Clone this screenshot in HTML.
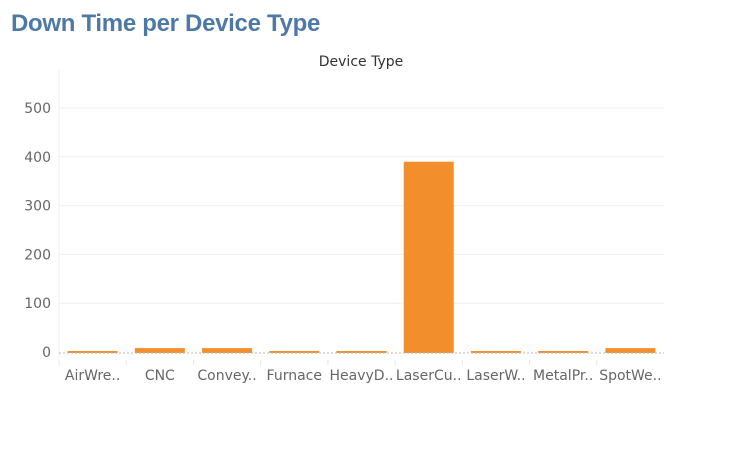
<!DOCTYPE html>
<html><head><meta charset="utf-8"><style>
body{margin:0;background:#fff;width:748px;height:452px;overflow:hidden;font-family:"Liberation Sans",sans-serif}
</style></head><body>
<div style="position:absolute;left:11px;top:10px;font:bold 24px 'Liberation Sans',sans-serif;color:#4e79a7;letter-spacing:-0.3px">Down Time per Device Type</div>
<svg id="c" width="748" height="452" style="position:absolute;left:0;top:0"></svg>
<script>
const categories=["AirWre..","CNC","Convey..","Furnace","HeavyD..","LaserCu..","LaserW..","MetalPr..","SpotWe.."];
const values=[2,10,10,2,2,392,2,2,10];
const ticks=[0,100,200,300,400,500];
const svg=document.getElementById('c');const NS='http://www.w3.org/2000/svg';
const x0=59,x1=664,y0=352,pxPer=0.488;
const slot=(x1-x0)/categories.length;
const y=v=>y0-v*pxPer;
function mk(t,a,txt){const e=document.createElementNS(NS,t);for(const k in a)e.setAttribute(k,a[k]);if(txt!=null)e.textContent=txt;svg.appendChild(e);return e;}
let e=mk('text',{x:361,y:66,'text-anchor':'middle','font-size':14,fill:'#333','font-family':'DejaVu Sans,Liberation Sans,sans-serif'},'Device Type');


mk('line',{x1:x0,y1:70,x2:x0,y2:362,stroke:'#f0f0f0'});
ticks.forEach(t=>{
 if(t>0){const g=mk('line',{x1:x0,x2:x1,y1:y(t),y2:y(t),stroke:'#efefef'});}
 const l=mk('text',{x:51,y:y(t)+5,'text-anchor':'end','font-size':14,fill:'#666','font-family':'DejaVu Sans,Liberation Sans,sans-serif'},t);
 
 
});
categories.forEach((c,i)=>{
 const cx=x0+slot*(i+0.5);
 const h=Math.max(2,values[i]*pxPer);
 const b=mk('rect',{x:cx-25,y:y0-h+1,width:50,height:h,fill:'#f28e2b'});
 
 
 const l=mk('text',{x:cx,y:380,'text-anchor':'middle','font-size':14,fill:'#666','font-family':'DejaVu Sans,Liberation Sans,sans-serif'},c);
 
 
 mk('line',{x1:x0+slot*i,x2:x0+slot*i,y1:360,y2:365,stroke:'#e6e6e6'});
});
mk('line',{x1:x0,x2:x1,y1:y0+1,y2:y0+1,stroke:'#bbb','stroke-dasharray':'2,2'});
</script>
</body></html>
